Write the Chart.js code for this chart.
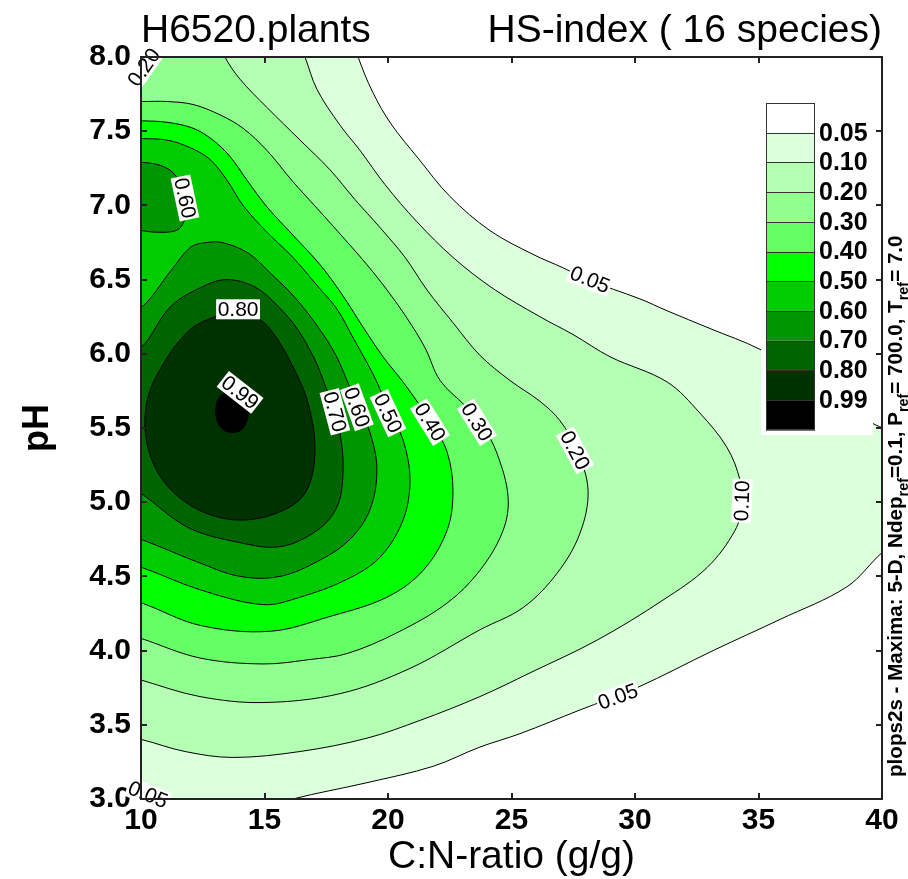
<!DOCTYPE html>
<html>
<head>
<meta charset="utf-8">
<script src="https://cdn.jsdelivr.net/npm/chart.js@4.4.0/dist/chart.umd.min.js"></script>
<style>
html,body{margin:0;padding:0;background:#fff;}
#wrap{position:relative;width:908px;height:879px;}
</style>
</head>
<body>
<div id="wrap"><canvas id="c"></canvas></div>
<script>
// ---- data ----
const levels = [0.05, 0.10, 0.20, 0.30, 0.40, 0.50, 0.60, 0.70, 0.80, 0.99];
const legendLabels = ['0.05','0.10','0.20','0.30','0.40','0.50','0.60','0.70','0.80','0.99'];
const xTicks = [10, 15, 20, 25, 30, 35, 40];
const yTicks = [3.0, 3.5, 4.0, 4.5, 5.0, 5.5, 6.0, 6.5, 7.0, 7.5, 8.0];

// contour boundaries (C:N-ratio, pH); each encloses the area with HS-index >= level
const contour005 = [[18.70,8.08],[18.79,8.00],[19.39,7.76],[20.12,7.55],[21.21,7.32],[22.51,7.06],[24.13,6.83],[25.87,6.67],[27.08,6.58],[28.06,6.50],[30.20,6.37],[31.30,6.29],[33.04,6.17],[35.06,6.03],[37.29,5.81],[39.64,5.53],[40.53,5.44],[40.53,4.71],[40.00,4.66],[38.58,4.43],[35.87,4.21],[33.16,4.00],[30.08,3.75],[27.77,3.60],[25.34,3.44],[23.72,3.35],[21.82,3.22],[19.15,3.11],[16.15,3.00],[15.43,2.95],[9.30,2.95],[9.30,8.08]];
const contour010 = [[16.44,8.08],[16.64,8.00],[17.13,7.78],[18.06,7.54],[18.87,7.37],[19.88,7.14],[21.17,6.89],[22.63,6.65],[24.25,6.44],[26.15,6.25],[27.49,6.13],[28.99,5.98],[31.30,5.81],[32.63,5.60],[33.72,5.37],[34.25,5.15],[34.33,4.98],[34.05,4.81],[32.92,4.56],[31.13,4.34],[28.46,4.07],[25.75,3.85],[23.72,3.69],[21.30,3.53],[19.15,3.41],[16.44,3.32],[13.72,3.28],[11.78,3.32],[10.04,3.40],[9.30,3.42],[9.30,8.08]];
const contour020 = [[13.28,8.08],[13.40,8.00],[14.01,7.85],[15.10,7.66],[16.44,7.44],[17.65,7.24],[18.66,7.04],[19.68,6.85],[20.69,6.65],[21.58,6.43],[22.63,6.21],[23.72,5.99],[24.94,5.82],[26.15,5.68],[26.96,5.55],[27.65,5.35],[28.10,5.08],[27.77,4.79],[26.84,4.52],[25.47,4.29],[23.72,4.14],[20.89,3.88],[18.06,3.71],[14.94,3.65],[12.39,3.69],[10.04,3.80],[9.30,3.84],[9.30,8.08]];
const contour030 = [[9.30,7.70],[10.04,7.70],[11.05,7.70],[12.11,7.68],[13.20,7.61],[14.13,7.52],[15.10,7.37],[16.15,7.16],[17.13,6.98],[18.26,6.77],[19.15,6.60],[19.96,6.43],[20.77,6.24],[21.50,6.04],[22.11,5.82],[23.12,5.65],[23.81,5.52],[24.41,5.33],[24.86,5.04],[24.66,4.81],[23.72,4.54],[22.39,4.32],[20.36,4.12],[18.34,3.98],[16.84,3.94],[14.94,3.91],[12.39,3.95],[10.04,4.08],[9.30,4.12]];
const contour040 = [[9.30,7.57],[10.04,7.57],[11.05,7.56],[12.11,7.52],[12.91,7.44],[13.60,7.33],[14.29,7.17],[15.10,6.99],[16.15,6.80],[17.25,6.60],[18.14,6.40],[18.95,6.19],[19.80,5.98],[20.61,5.81],[21.30,5.65],[21.82,5.52],[22.39,5.34],[22.63,5.08],[22.39,4.81],[21.42,4.54],[19.96,4.36],[17.65,4.23],[15.22,4.13],[12.39,4.17],[10.04,4.32],[9.30,4.35]];
const contour050 = [[9.30,7.45],[10.04,7.45],[11.05,7.44],[11.98,7.39],[12.79,7.31],[13.48,7.17],[14.13,7.00],[15.10,6.82],[16.15,6.65],[17.13,6.46],[17.94,6.30],[18.58,6.11],[19.15,5.94],[19.55,5.81],[20.08,5.60],[20.61,5.42],[20.89,5.15],[20.61,4.88],[19.68,4.63],[18.34,4.48],[16.44,4.36],[14.94,4.31],[12.39,4.41],[10.04,4.56],[9.30,4.59]];
const contour060 = [[9.30,6.30],[10.00,6.31],[11.21,6.56],[12.02,6.72],[12.67,6.75],[13.28,6.75],[14.33,6.68],[15.26,6.54],[16.23,6.38],[17.17,6.18],[17.89,5.99],[18.34,5.82],[18.79,5.64],[19.27,5.47],[19.55,5.22],[19.27,4.95],[18.46,4.75],[17.25,4.61],[15.63,4.50],[14.01,4.50],[12.39,4.59],[10.00,4.75],[9.30,4.78]];
const contour060b = [[9.30,7.29],[10.04,7.29],[10.77,7.27],[11.30,7.22],[11.66,7.12],[11.82,6.98],[11.74,6.89],[11.42,6.83],[10.49,6.82],[10.04,6.83],[9.30,6.83]];
const contour070 = [[9.30,6.01],[10.00,6.04],[11.21,6.32],[12.59,6.46],[13.52,6.50],[14.62,6.45],[15.55,6.32],[16.36,6.16],[17.04,5.96],[17.45,5.79],[17.85,5.61],[18.10,5.42],[18.18,5.20],[17.94,4.97],[17.13,4.81],[15.63,4.70],[13.93,4.73],[11.90,4.83],[10.00,5.06],[9.30,5.12]];
const contour080 = [[13.93,6.28],[14.62,6.25],[15.26,6.16],[16.07,5.94],[16.76,5.67],[17.04,5.33],[16.64,5.06],[15.55,4.93],[13.93,4.88],[12.31,4.95],[10.97,5.13],[10.28,5.37],[10.20,5.64],[10.69,5.87],[11.90,6.15],[13.00,6.25]];
const contour099 = [[13.68,5.76],[14.13,5.73],[14.37,5.65],[14.33,5.57],[14.09,5.49],[13.72,5.47],[13.32,5.49],[13.08,5.55],[13.04,5.65],[13.24,5.72]];

// contour labels: text and location (C:N-ratio, pH)
const labelText = ['0.20','0.60','0.80','0.99','0.70','0.60','0.50','0.40','0.30','0.20','0.10','0.05','0.05','0.05'];
const labelX = [10.12, 11.78, 13.93, 14.01, 17.85, 18.74, 20.00, 21.70, 23.60, 27.57, 34.33, 28.18, 29.31, 10.28];
const labelY = [7.93, 7.05, 6.30, 5.74, 5.61, 5.64, 5.60, 5.54, 5.54, 5.35, 5.01, 6.50, 3.69, 3.03];

// ---- styles ----
const F = "'Liberation Sans', Arial, Helvetica, sans-serif";
const bandColors = ['#ffffff','#dcffdc','#b4ffb4','#90ff90','#64ff64','#00ff00','#00cc00','#009600','#006400','#003200','#000000'];
const labelAngles = [-55, 78, 0, 38, 75, 70, 65, 58, 58, 62, -88, 22, -20, 22];

const regions = [
  [0, contour005], [1, contour010], [2, contour020], [3, contour030], [4, contour040],
  [5, contour050], [6, contour060], [6, contour060b], [7, contour070], [8, contour080], [9, contour099]
];

const datasets = regions.map(([li, pts], i) => ({
  data: pts.concat([pts[0]]).map(p => ({x: p[0], y: p[1]})),
  fill: 'shape',
  backgroundColor: bandColors[li + 1],
  borderColor: '#000',
  borderWidth: 1,
  pointRadius: 0,
  tension: 0.35,
  order: 100 - i
}));

const overlay = {
  id: 'overlay',
  afterDatasetsDraw(chart) {
    const {ctx, chartArea: a, scales: {x, y}} = chart;
    // contour labels
    ctx.save();
    ctx.font = '21px ' + F;
    ctx.textAlign = 'center';
    ctx.textBaseline = 'middle';
    labelText.forEach((t, i) => {
      const px = x.getPixelForValue(labelX[i]);
      const py = y.getPixelForValue(labelY[i]);
      ctx.save();
      ctx.translate(px, py);
      ctx.rotate(labelAngles[i] * Math.PI / 180);
      const w = ctx.measureText(t).width;
      ctx.fillStyle = '#fff';
      ctx.fillRect(-w / 2 - 1.5, -10, w + 3, 20);
      ctx.fillStyle = '#000';
      ctx.fillText(t, 0, 1);
      ctx.restore();
    });
    ctx.restore();

    // colour legend
    ctx.save();
    const lx = 766, ly = 103, lw = 48, lh = 29.7;
    ctx.fillStyle = '#fff';
    ctx.fillRect(761, 96, 112, 339);
    bandColors.forEach((c, k) => {
      ctx.fillStyle = c;
      ctx.fillRect(lx, ly + k * lh, lw, lh);
    });
    ctx.strokeStyle = '#333';
    ctx.lineWidth = 1;
    for (let k = 1; k < bandColors.length; k++) {
      ctx.beginPath();
      ctx.moveTo(lx, Math.round(ly + k * lh) + 0.5);
      ctx.lineTo(lx + lw, Math.round(ly + k * lh) + 0.5);
      ctx.stroke();
    }
    ctx.strokeRect(lx + 0.5, ly + 0.5, lw, lh * bandColors.length);
    ctx.fillStyle = '#000';
    ctx.font = 'bold 25px ' + F;
    ctx.textAlign = 'left';
    ctx.textBaseline = 'middle';
    legendLabels.forEach((t, k) => ctx.fillText(t, 819, ly + (k + 1) * lh + 1));
    ctx.restore();

    // frame and inward ticks
    ctx.save();
    ctx.strokeStyle = '#222';
    ctx.lineWidth = 2;
    ctx.strokeRect(a.left, a.top, a.right - a.left, a.bottom - a.top);
    ctx.beginPath();
    const tl = 6;
    xTicks.forEach(v => {
      const px = Math.round(x.getPixelForValue(v));
      ctx.moveTo(px, a.bottom); ctx.lineTo(px, a.bottom - tl);
      ctx.moveTo(px, a.top); ctx.lineTo(px, a.top + tl);
    });
    yTicks.forEach(v => {
      const py = Math.round(y.getPixelForValue(v));
      ctx.moveTo(a.left, py); ctx.lineTo(a.left + tl, py);
      ctx.moveTo(a.right, py); ctx.lineTo(a.right - tl, py);
    });
    ctx.stroke();
    ctx.restore();
  },
  afterDraw(chart) {
    const {ctx, chartArea: a} = chart;
    ctx.save();
    ctx.fillStyle = '#000';
    ctx.font = '39px ' + F;
    ctx.textBaseline = 'alphabetic';
    ctx.textAlign = 'left';
    ctx.fillText('H6520.plants', 141, 42);
    ctx.textAlign = 'right';
    ctx.fillText('HS-index ( 16 species)', a.right, 42);
    ctx.restore();

    // vertical side note
    const parts = [['plops2s - Maxima: 5-D, Ndep', 0], ['ref', 1], ['=0.1, P', 0], ['ref', 1], ['= 700.0, T', 0], ['ref', 1], ['= 7.0', 0]];
    const targetLen = 542;
    const base = 18;
    ctx.save();
    const measure = s => {
      let tot = 0;
      parts.forEach(([t, sub]) => {
        ctx.font = 'bold ' + (sub ? s * 0.7 : s) + 'px ' + F;
        tot += ctx.measureText(t).width;
      });
      return tot;
    };
    const size = base * targetLen / measure(base);
    ctx.translate(902, 777);
    ctx.rotate(-Math.PI / 2);
    ctx.fillStyle = '#000';
    ctx.textAlign = 'left';
    ctx.textBaseline = 'alphabetic';
    let cx = 0;
    parts.forEach(([t, sub]) => {
      ctx.font = 'bold ' + (sub ? size * 0.7 : size) + 'px ' + F;
      ctx.fillText(t, cx, sub ? size * 0.3 : 0);
      cx += ctx.measureText(t).width;
    });
    ctx.restore();
  }
};

new Chart(document.getElementById('c'), {
  type: 'line',
  data: {datasets},
  plugins: [overlay],
  options: {
    responsive: true,
    maintainAspectRatio: false,
    animation: false,
    events: [],
    layout: {padding: {top: 57, right: 26, left: 0, bottom: 0}},
    elements: {line: {capBezierPoints: false}},
    plugins: {legend: {display: false}, tooltip: {enabled: false}, title: {display: false}},
    scales: {
      x: {
        type: 'linear', position: 'bottom', min: 10, max: 40,
        afterBuildTicks: s => { s.ticks = xTicks.map(v => ({value: v})); },
        afterFit: s => { s.height = 80; s.paddingLeft = 0; s.paddingRight = 0; },
        ticks: {font: {family: F, size: 30, weight: 'bold', lineHeight: 1}, color: '#000', padding: 7, maxRotation: 0, autoSkip: false, callback: v => String(v)},
        grid: {display: false, drawTicks: false},
        border: {display: false},
        title: {display: true, text: 'C:N-ratio (g/g)', color: '#000', font: {family: F, size: 39, lineHeight: 1}, padding: {top: 0, bottom: 2}}
      },
      y: {
        type: 'linear', position: 'left', min: 3, max: 8,
        afterBuildTicks: s => { s.ticks = yTicks.map(v => ({value: v})); },
        afterFit: s => { s.width = 141; },
        ticks: {font: {family: F, size: 30, weight: 'bold', lineHeight: 1}, color: '#000', padding: 10, autoSkip: false, callback: v => Number(v).toFixed(1)},
        grid: {display: false, drawTicks: false},
        border: {display: false},
        title: {display: true, text: 'pH', color: '#000', font: {family: F, size: 36, weight: 'bold', lineHeight: 1}, padding: {top: 20, bottom: 0}}
      }
    }
  }
});
</script>
</body>
</html>
